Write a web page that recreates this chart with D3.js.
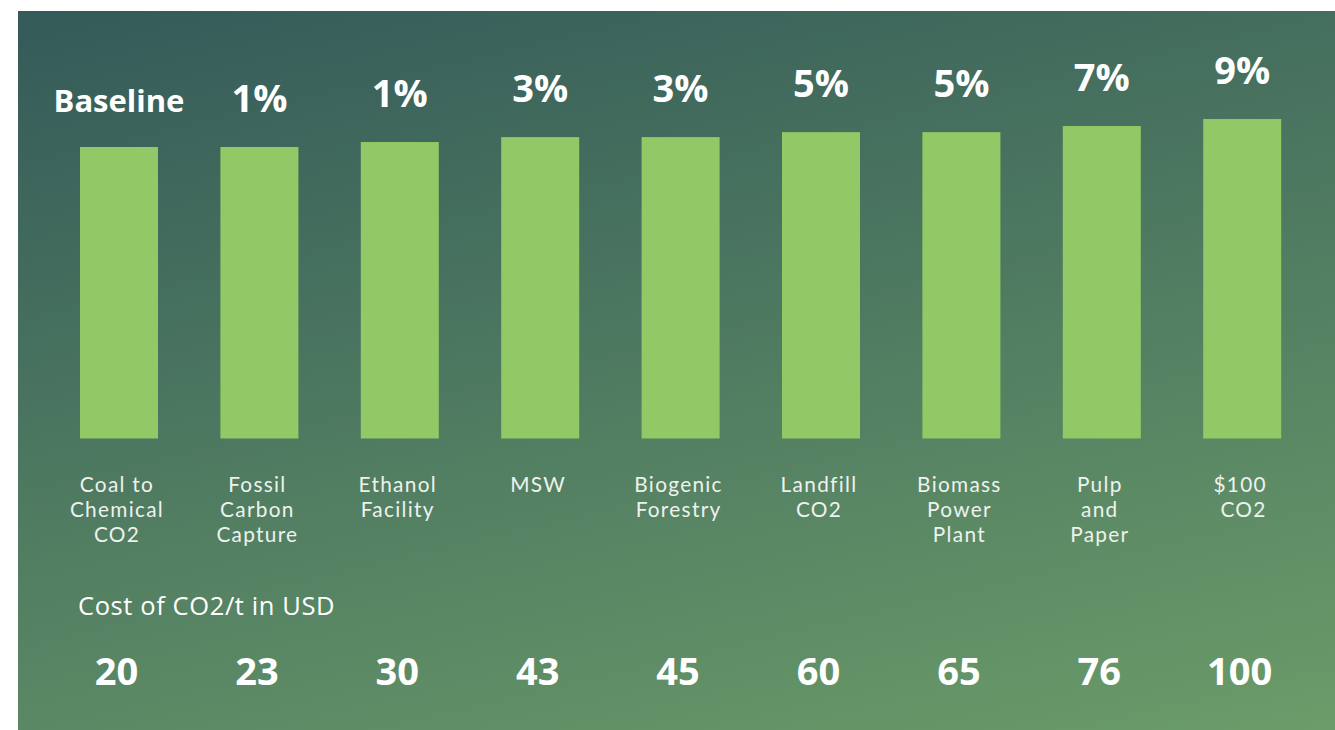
<!DOCTYPE html>
<html>
<head>
<meta charset="utf-8">
<script src="https://cdn.jsdelivr.net/npm/d3@7"></script>
<style>
  html, body { margin: 0; padding: 0; background: #ffffff; }
  svg { display: block; }
</style>
</head>
<body>
<svg id="chart" width="1335" height="730"></svg>
<script>
// ---- data ----
const categories = [
  ["Coal to", "Chemical", "CO2"],
  ["Fossil", "Carbon", "Capture"],
  ["Ethanol", "Facility"],
  ["MSW"],
  ["Biogenic", "Forestry"],
  ["Landfill", "CO2"],
  ["Biomass", "Power", "Plant"],
  ["Pulp", "and", "Paper"],
  ["$100", " CO2"]
];
const barValues = [100, 100, 101.7, 103.4, 103.4, 105.1, 105.1, 107.2, 109.6];
const increaseLabels = ["Baseline", "1%", "1%", "3%", "3%", "5%", "5%", "7%", "9%"];
const costValues = [20, 23, 30, 43, 45, 60, 65, 76, 100];
const costTitle = "Cost of CO2/t in USD";

// ---- setup ----
const W = 1335, H = 730;
const svg = d3.select("#chart");
const defs = svg.append("defs");
const grad = defs.append("linearGradient")
  .attr("id", "bg")
  .attr("gradientUnits", "userSpaceOnUse")
  .attr("x1", 18).attr("y1", 10)
  .attr("x2", 246).attr("y2", 985);
grad.append("stop").attr("offset", "0%").attr("stop-color", "#345a59");
grad.append("stop").attr("offset", "100%").attr("stop-color", "#6b9c69");

svg.append("rect")
  .attr("x", 18).attr("y", 11)
  .attr("width", W - 18).attr("height", H - 11)
  .attr("fill", "url(#bg)");

const idx = d3.range(categories.length);
const x = d3.scaleBand()
  .domain(idx)
  .range([17.6, 1343.6])
  .padding(0.4444);

const y = d3.scaleLinear()
  .domain([0, 110])
  .range([438.5, 438.5 - 2.915 * 110]);

const fontFam = "'Open Sans', 'Noto Sans', sans-serif";
const cx = i => x(i) + x.bandwidth() / 2;

// bars
svg.append("g").selectAll("rect")
  .data(idx)
  .join("rect")
  .attr("x", i => x(i))
  .attr("y", i => y(barValues[i]))
  .attr("width", x.bandwidth())
  .attr("height", i => y(0) - y(barValues[i]))
  .attr("fill", "#92c865");

// increase labels above bars
svg.append("g").selectAll("text")
  .data(idx)
  .join("text")
  .attr("x", cx)
  .attr("y", i => y(barValues[i]) - 35)
  .attr("text-anchor", "middle")
  .attr("fill", "#ffffff")
  .attr("font-family", fontFam)
  .attr("font-weight", 700)
  .attr("font-size", i => i === 0 ? 31 : 38)
  .text(i => increaseLabels[i]);

// category labels (one text per line)
const lines = [];
idx.forEach(i => categories[i].forEach((line, k) => lines.push({ i, k, line })));
svg.append("g").selectAll("text")
  .data(lines)
  .join("text")
  .attr("x", d => cx(d.i) - 2)
  .attr("y", d => 492 + d.k * 25)
  .attr("text-anchor", "middle")
  .attr("fill", "#eef2ee")
  .attr("font-family", "Lato, 'Open Sans', sans-serif")
  .attr("font-weight", 400)
  .attr("font-size", 20.8)
  .attr("letter-spacing", 1.3)
  .attr("xml:space", "preserve")
  .text(d => d.line);

// cost title
svg.append("text")
  .attr("x", 78)
  .attr("y", 615)
  .attr("fill", "#ffffff")
  .attr("font-family", fontFam)
  .attr("font-weight", 400)
  .attr("font-size", 25.5)
  .attr("letter-spacing", 0.6)
  .text(costTitle);

// cost values
svg.append("g").selectAll("text")
  .data(idx)
  .join("text")
  .attr("x", i => cx(i) - 2.5)
  .attr("y", 685)
  .attr("text-anchor", "middle")
  .attr("fill", "#ffffff")
  .attr("font-family", fontFam)
  .attr("font-weight", 700)
  .attr("font-size", 38)
  .text(i => costValues[i]);
</script>
</body>
</html>
